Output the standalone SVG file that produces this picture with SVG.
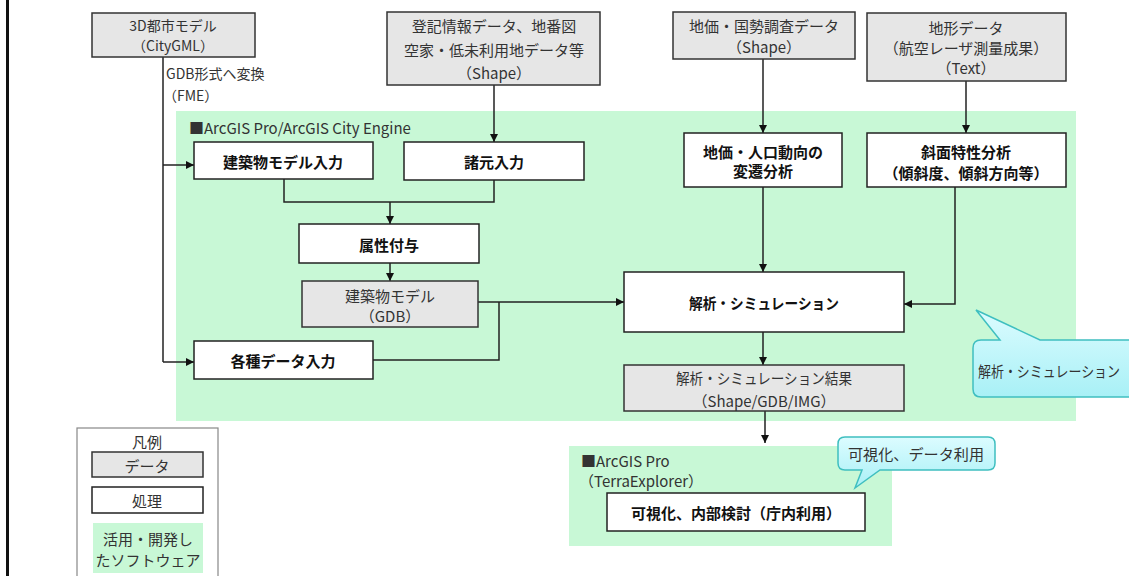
<svg xmlns="http://www.w3.org/2000/svg" width="1129" height="576" viewBox="0 0 1129 576">
<defs>
<style>
text{font-family:"Noto Sans CJK JP","Noto Sans",sans-serif;font-size:15px;fill:#333;text-anchor:middle;dominant-baseline:central}
.l{text-anchor:start}
.b{font-weight:bold;fill:#111}
.s{font-size:14px}
.data{fill:#e6e6e6;stroke:#333;stroke-width:1.5}
.proc{fill:#fff;stroke:#222;stroke-width:1.5}
.panel{fill:#c8f8d6}
.conn{fill:none;stroke:#222;stroke-width:1.5}
.call{fill:url(#cg);stroke:#3fbfc0;stroke-width:1.5}
</style>
<linearGradient id="cg" x1="0" y1="0" x2="0" y2="1">
<stop offset="0" stop-color="#dcfcff"/>
<stop offset="1" stop-color="#a8f0f6"/>
</linearGradient>
<marker id="ah" viewBox="0 0 8 8" refX="8" refY="4" markerWidth="8" markerHeight="8" markerUnits="userSpaceOnUse" orient="auto">
<path d="M0,0 L8,4 L0,8 z" fill="#111"/>
</marker>
</defs>
<rect x="0" y="0" width="1129" height="576" fill="#fff"/>
<rect x="6" y="0" width="3" height="576" fill="#111"/>

<g id="panel-main">
<rect class="panel" x="176" y="111" width="900" height="310"/>
<text class="l" x="189" y="127">■ArcGIS Pro/ArcGIS City Engine</text>
</g>
<g id="panel-viz">
<rect class="panel" x="569" y="446" width="323" height="100"/>
<text class="l" x="581" y="460">■ArcGIS Pro</text>
<text class="l" x="579" y="480">（TerraExplorer）</text>
</g>

<g id="connectors">
<line class="conn" x1="163" y1="57" x2="163" y2="362"/>
<line class="conn" x1="163" y1="165" x2="194" y2="165" marker-end="url(#ah)"/>
<line class="conn" x1="163" y1="362" x2="194" y2="362" marker-end="url(#ah)"/>
<line class="conn" x1="494" y1="85" x2="494" y2="142" marker-end="url(#ah)"/>
<polyline class="conn" points="284,179 284,202 494,202 494,180"/>
<line class="conn" x1="390" y1="202" x2="390" y2="224" marker-end="url(#ah)"/>
<line class="conn" x1="390" y1="263" x2="390" y2="281" marker-end="url(#ah)"/>
<line class="conn" x1="478" y1="302" x2="624" y2="302" marker-end="url(#ah)"/>
<polyline class="conn" points="373,360 499,360 499,302"/>
<line class="conn" x1="763" y1="59" x2="763" y2="133" marker-end="url(#ah)"/>
<line class="conn" x1="763" y1="187" x2="763" y2="272" marker-end="url(#ah)"/>
<line class="conn" x1="966" y1="81" x2="966" y2="133" marker-end="url(#ah)"/>
<polyline class="conn" points="955,187 955,304 904,304" marker-end="url(#ah)"/>
<line class="conn" x1="763" y1="332" x2="763" y2="365" marker-end="url(#ah)"/>
<line class="conn" x1="765" y1="411" x2="765" y2="443" marker-end="url(#ah)"/>
<text class="l s" x="166" y="73">GDB形式へ変換</text>
<text class="l s" x="163" y="95">（FME）</text>
</g>

<g id="src-citygml">
<rect class="data" x="92" y="13" width="163" height="44"/>
<text class="s" x="173" y="25">3D都市モデル</text>
<text class="s" x="173" y="45">（CityGML）</text>
</g>
<g id="src-touki">
<rect class="data" x="387" y="12" width="213" height="73"/>
<text x="494" y="25">登記情報データ、地番図</text>
<text x="494" y="49">空家・低未利用地データ等</text>
<text x="494" y="72">（Shape）</text>
</g>
<g id="src-chika">
<rect class="data" x="673" y="12" width="182" height="47"/>
<text x="764" y="25">地価・国勢調査データ</text>
<text x="764" y="46">（Shape）</text>
</g>
<g id="src-chikei">
<rect class="data" x="867" y="13" width="199" height="68"/>
<text x="966" y="27">地形データ</text>
<text x="966" y="47">（航空レーザ測量成果）</text>
<text x="966" y="67">（Text）</text>
</g>

<g id="p-bldg-input">
<rect class="proc" x="194" y="142" width="179" height="37"/>
<text class="b" x="283" y="161">建築物モデル入力</text>
</g>
<g id="p-shogen">
<rect class="proc" x="404" y="142" width="180" height="38"/>
<text class="b" x="494" y="161">諸元入力</text>
</g>
<g id="p-zokusei">
<rect class="proc" x="299" y="224" width="180" height="39"/>
<text class="b" x="389" y="244">属性付与</text>
</g>
<g id="d-bldg-gdb">
<rect class="data" x="302" y="281" width="176" height="46"/>
<text x="390" y="295">建築物モデル</text>
<text x="390" y="315">（GDB）</text>
</g>
<g id="p-kakushu">
<rect class="proc" x="194" y="341" width="179" height="38"/>
<text class="b" x="283" y="360">各種データ入力</text>
</g>
<g id="p-chika-jinko">
<rect class="proc" x="684" y="133" width="158" height="54"/>
<text class="b" x="763" y="151">地価・人口動向の</text>
<text class="b" x="763" y="170">変遷分析</text>
</g>
<g id="p-shamen">
<rect class="proc" x="867" y="133" width="199" height="54"/>
<text class="b" x="966" y="151">斜面特性分析</text>
<text class="b" x="966" y="172">（傾斜度、傾斜方向等）</text>
</g>
<g id="p-kaiseki">
<rect class="proc" x="624" y="272" width="280" height="60"/>
<text class="b" x="764" y="302" textLength="150" lengthAdjust="spacingAndGlyphs">解析・シミュレーション</text>
</g>
<g id="d-kekka">
<rect class="data" x="624" y="365" width="280" height="46"/>
<text x="764" y="377" textLength="176" lengthAdjust="spacingAndGlyphs">解析・シミュレーション結果</text>
<text x="764" y="400">（Shape/GDB/IMG）</text>
</g>
<g id="p-kashika">
<rect class="proc" x="607" y="493" width="258" height="38"/>
<text class="b" x="736" y="512">可視化、内部検討（庁内利用）</text>
</g>

<g id="callout-kaiseki">
<path class="call" d="M981,340 L1000,340 L976,310 L1040,340 L1140,340 L1140,397 L981,397 Q973,397 973,389 L973,348 Q973,340 981,340 Z"/>
<text class="l" x="978" y="370" textLength="142" lengthAdjust="spacingAndGlyphs">解析・シミュレーション</text>
</g>
<g id="callout-kashika">
<path class="call" d="M845,437 L988,437 Q995,437 995,444 L995,463 Q995,470 988,470 L880,470 L855,488 L862,470 L845,470 Q838,470 838,463 L838,444 Q838,437 845,437 Z"/>
<text x="916" y="453" textLength="136" lengthAdjust="spacingAndGlyphs">可視化、データ利用</text>
</g>

<g id="legend">
<rect x="77" y="428" width="141" height="160" fill="#fff" stroke="#888" stroke-width="1.2"/>
<text x="147" y="441">凡例</text>
<rect class="data" x="92" y="452" width="111" height="25" stroke="#555" stroke-width="1"/>
<text x="147" y="465">データ</text>
<rect class="proc" x="92" y="487" width="111" height="26" stroke="#555" stroke-width="1"/>
<text x="147" y="500">処理</text>
<rect class="panel" x="93" y="523" width="110" height="50"/>
<text x="148" y="538">活用・開発し</text>
<text x="148" y="559">たソフトウェア</text>
</g>
</svg>
